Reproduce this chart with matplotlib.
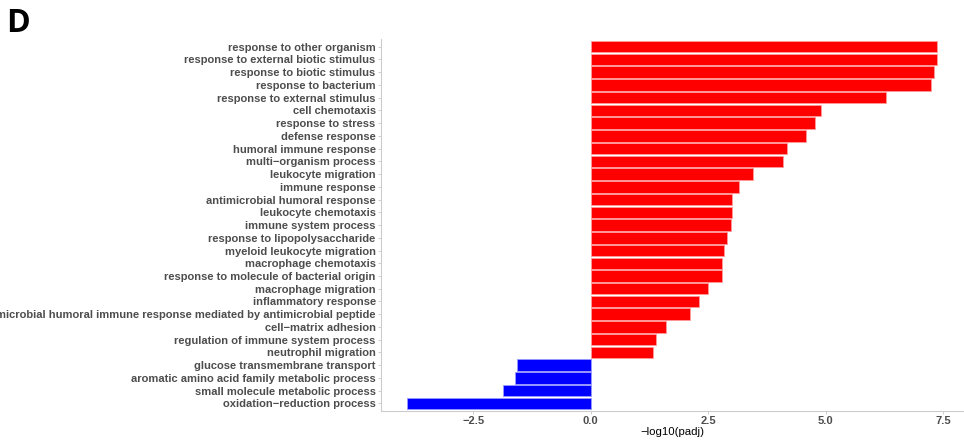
import matplotlib
matplotlib.use("Agg")
import matplotlib.pyplot as plt
import numpy as np

# GO terms, top to bottom, with -log10(padj) (negative = down-regulated)
terms = [
    "response to other organism",
    "response to external biotic stimulus",
    "response to biotic stimulus",
    "response to bacterium",
    "response to external stimulus",
    "cell chemotaxis",
    "response to stress",
    "defense response",
    "humoral immune response",
    "multi\u2212organism process",
    "leukocyte migration",
    "immune response",
    "antimicrobial humoral response",
    "leukocyte chemotaxis",
    "immune system process",
    "response to lipopolysaccharide",
    "myeloid leukocyte migration",
    "macrophage chemotaxis",
    "response to molecule of bacterial origin",
    "macrophage migration",
    "inflammatory response",
    "antimicrobial humoral immune response mediated by antimicrobial peptide",
    "cell\u2212matrix adhesion",
    "regulation of immune system process",
    "neutrophil migration",
    "glucose transmembrane transport",
    "aromatic amino acid family metabolic process",
    "small molecule metabolic process",
    "oxidation\u2212reduction process",
]
values = [7.38, 7.38, 7.31, 7.25, 6.28, 4.90, 4.78, 4.59, 4.18, 4.10,
          3.45, 3.16, 3.01, 3.00, 2.98, 2.91, 2.83, 2.80, 2.79, 2.49,
          2.31, 2.12, 1.61, 1.40, 1.33, -1.56, -1.60, -1.87, -3.90]
xticks = [-2.5, 0.0, 2.5, 5.0, 7.5]

plt.rcParams['font.family'] = ['Liberation Sans', 'DejaVu Sans']

fig = plt.figure(figsize=(9.64, 4.44), dpi=100)
ax = fig.add_axes([0.395, 0.0743, 0.605, 0.8377])

n = len(terms)
ypos = np.arange(n)[::-1] + 1
colors = ["#FF0000" if v > 0 else "#0000FF" for v in values]
edges = ["#FF9A9A" if v > 0 else "#9A9AFF" for v in values]
ax.barh(ypos, values, height=0.9, color=colors, edgecolor=edges, linewidth=0.6)

ax.set_ylim(0.4, n + 0.6)
span = max(values) - min(values)
ax.set_xlim(min(values) - 0.05 * span, max(values) + 0.05 * span)

ax.set_yticks(ypos)
ax.set_yticklabels(terms, fontsize=8, fontweight="bold", color="#4D4D4D")
ax.set_xticks(xticks)
ax.set_xticklabels([f"{t:.1f}".replace("-", "\u2212") for t in xticks],
                   fontsize=8, fontweight="bold", color="#4D4D4D")
ax.tick_params(axis="both", length=2.5, width=0.5, color="#BBBBBB", pad=1.2)
ax.set_xlabel("\u2212log10(padj)", fontsize=8.2, color="black", labelpad=0.5)

for side in ["top", "right"]:
    ax.spines[side].set_visible(False)
for side in ["left", "bottom"]:
    ax.spines[side].set_color("#CCCCCC")
    ax.spines[side].set_linewidth(0.8)

fig.text(0.006, 0.985, "D", fontsize=23, fontweight="bold", color="black",
         va="top", ha="left", family=["Open Sans", "DejaVu Sans"])

fig.savefig("out.png", dpi=100, facecolor="white")
